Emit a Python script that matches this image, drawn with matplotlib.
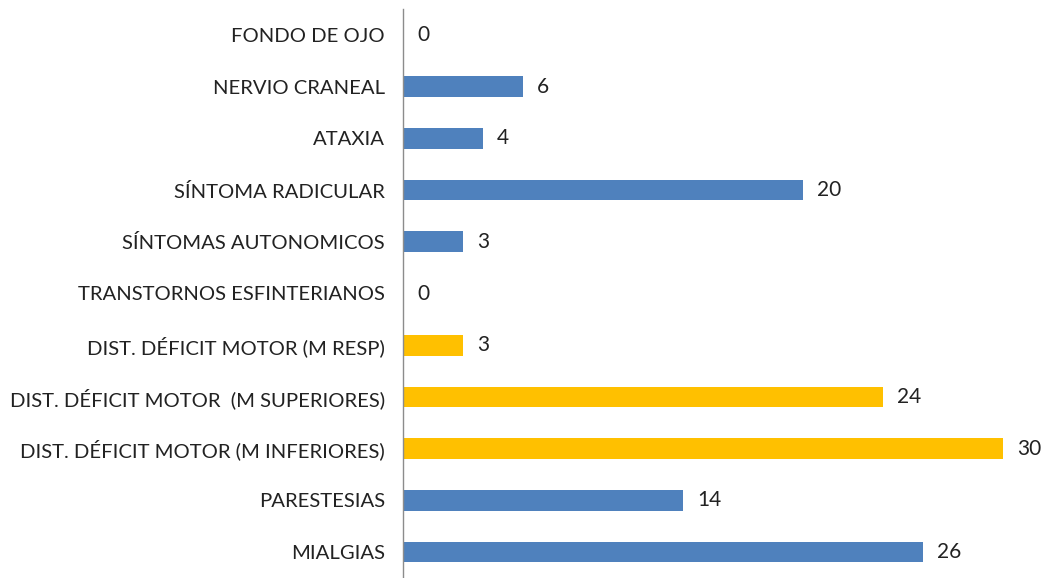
import matplotlib
matplotlib.use("Agg")
import matplotlib.pyplot as plt

categories = [
    "FONDO DE OJO",
    "NERVIO CRANEAL",
    "ATAXIA",
    "SÍNTOMA RADICULAR",
    "SÍNTOMAS AUTONOMICOS",
    "TRANSTORNOS ESFINTERIANOS",
    "DIST. DÉFICIT MOTOR (M RESP)",
    "DIST. DÉFICIT MOTOR  (M SUPERIORES)",
    "DIST. DÉFICIT MOTOR (M INFERIORES)",
    "PARESTESIAS",
    "MIALGIAS",
]
values = [0, 6, 4, 20, 3, 0, 3, 24, 30, 14, 26]
highlight = [False, False, False, False, False, False, True, True, True, False, False]

BLUE = "#4F81BD"
YELLOW = "#FFC000"

plt.rcParams['font.family'] = ['Lato', 'DejaVu Sans']

fig = plt.figure(figsize=(10.46, 5.78), dpi=100)
ax = fig.add_axes([403/1046, 0.0, 640/1046, 1 - 9/578])

ypos = list(range(len(categories)))[::-1]
colors = [YELLOW if h else BLUE for h in highlight]
ax.barh(ypos, values, height=0.4, color=colors)

for y, v in zip(ypos, values):
    ax.text(v + 0.7, y, str(v), va='center', ha='left', fontsize=15, color='#222222')

ax.set_yticks(ypos)
ax.set_yticklabels(categories, fontsize=14.6, color='#222222')
ax.tick_params(axis='y', length=0, pad=13)
ax.set_xticks([])
ax.set_xlim(0, 32)
ax.set_ylim(-0.5, len(categories) - 0.5)
for s in ['top', 'right', 'bottom']:
    ax.spines[s].set_visible(False)
ax.spines['left'].set_color('#8C8C8C')
ax.spines['left'].set_linewidth(1.0)

fig.savefig("out.png", dpi=100, facecolor='white')
